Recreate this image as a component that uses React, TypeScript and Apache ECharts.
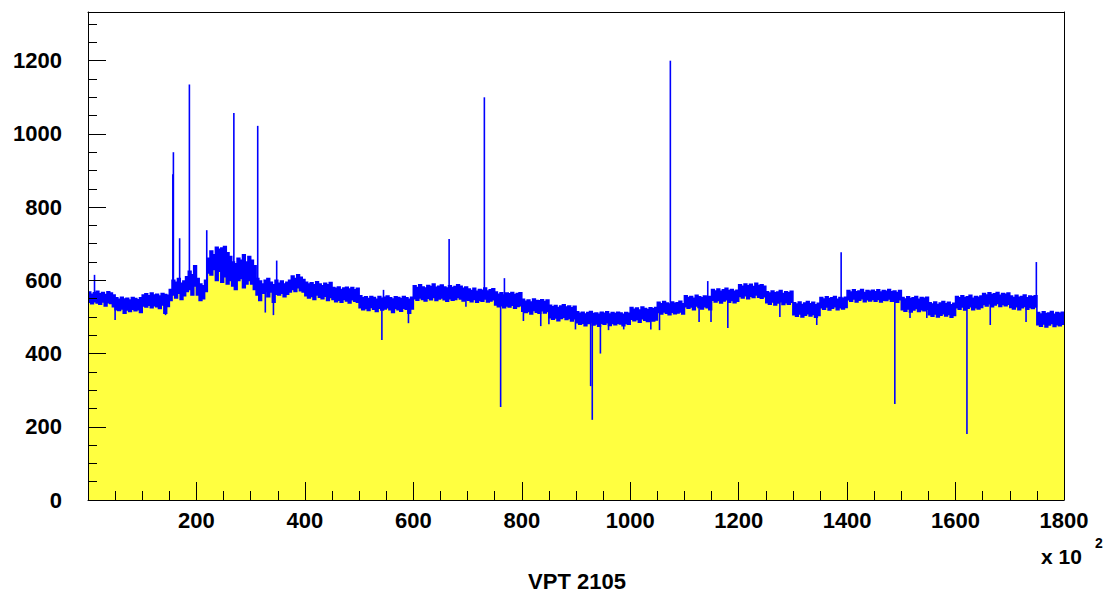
import React, { useEffect, useRef } from 'react';
import * as echarts from 'echarts';

// histogram bin width (x axis units, x 10^2)
const BIN_WIDTH = 5;
const X_MAX = 1800;
const Y_MAX = 1333;

// top of the blue noise band per bin (from x = 0, step BIN_WIDTH)
const bandHigh: number[] = [
  568, 562, 566, 570, 563, 567, 561, 569, 565, 560, 552, 548, 554, 549, 551, 546, 553, 550, 547, 552,
  560, 563, 558, 565, 560, 562, 557, 564, 561, 559, 575, 600, 595, 605, 592, 598, 610, 625, 615, 640,
  605, 590, 585, 600, 660, 680, 670, 690, 685, 688, 692, 675, 665, 650, 645, 660, 655, 670, 650, 665,
  655, 640, 605, 598, 590, 600, 605, 595, 588, 600, 592, 598, 590, 595, 600, 612, 605, 615, 608, 602,
  595, 590, 593, 588, 596, 590, 585, 592, 588, 594, 580, 578, 582, 575, 579, 581, 576, 580, 574, 578,
  558, 552, 555, 550, 556, 553, 548, 556, 551, 554, 557, 552, 549, 555, 553, 550, 556, 552, 548, 554,
  585, 580, 588, 582, 579, 586, 583, 590, 581, 584, 587, 582, 579, 585, 580, 583, 588, 584, 578, 582,
  576, 572, 578, 570, 575, 573, 579, 571, 574, 577, 568, 562, 566, 560, 565, 563, 567, 561, 564, 566,
  548, 543, 546, 541, 549, 545, 544, 547, 542, 546, 532, 528, 531, 526, 530, 533, 527, 530, 525, 529,
  514, 510, 513, 508, 512, 515, 509, 511, 507, 513, 510, 514, 508, 512, 509, 513, 511, 507, 512, 510,
  526, 521, 524, 519, 527, 523, 520, 525, 522, 526, 540, 536, 542, 538, 535, 541, 537, 539, 543, 536,
  558, 553, 556, 551, 559, 555, 552, 557, 554, 556, 575, 571, 576, 570, 574, 578, 572, 575, 570, 573,
  588, 584, 590, 585, 589, 583, 592, 586, 588, 584, 569, 565, 571, 566, 568, 572, 564, 569, 566, 570,
  539, 535, 541, 534, 538, 542, 536, 540, 533, 537, 553, 549, 555, 550, 552, 556, 548, 553, 551, 554,
  572, 568, 574, 569, 571, 575, 567, 572, 570, 573, 569, 574, 568, 572, 570, 575, 569, 571, 567, 572,
  553, 549, 555, 550, 552, 556, 548, 553, 551, 554, 539, 535, 541, 534, 538, 542, 536, 540, 533, 537,
  556, 552, 558, 553, 555, 559, 551, 556, 554, 557, 564, 560, 566, 561, 563, 567, 559, 564, 562, 565,
  557, 553, 559, 554, 556, 560, 552, 557, 555, 558, 512, 508, 514, 509, 511, 515, 507, 512, 510, 513,
];

// top of the yellow fill (bottom of the blue band) per bin
const bandLow: number[] = [
  540, 536, 542, 538, 535, 541, 530, 539, 537, 528, 520, 518, 522, 510, 519, 515, 521, 517, 520, 512,
  530, 527, 532, 525, 531, 528, 523, 533, 510, 529, 545, 560, 552, 565, 548, 558, 570, 575, 560, 585,
  560, 545, 550, 570, 620, 615, 630, 600, 625, 595, 610, 590, 600, 585, 575, 600, 605, 580, 590, 600,
  590, 575, 560, 545, 565, 570, 555, 568, 540, 562, 560, 565, 555, 562, 568, 575, 570, 580, 572, 568,
  558, 552, 556, 548, 560, 554, 550, 557, 545, 553, 548, 542, 546, 540, 548, 544, 538, 547, 543, 540,
  525, 520, 523, 518, 526, 521, 515, 524, 519, 522, 525, 520, 512, 523, 520, 516, 524, 521, 510, 522,
  550, 546, 552, 548, 544, 551, 547, 553, 545, 549, 552, 547, 543, 550, 546, 548, 553, 549, 544, 547,
  546, 542, 548, 540, 545, 543, 549, 541, 544, 547, 533, 528, 531, 525, 530, 527, 532, 524, 529, 531,
  516, 512, 515, 508, 518, 513, 510, 517, 511, 515, 498, 494, 497, 490, 496, 499, 493, 496, 489, 495,
  484, 480, 483, 476, 482, 485, 478, 481, 475, 483, 480, 484, 477, 482, 479, 483, 481, 476, 482, 480,
  494, 490, 493, 486, 495, 491, 488, 494, 489, 492, 512, 508, 514, 510, 506, 513, 509, 511, 514, 508,
  528, 524, 527, 520, 530, 526, 522, 528, 525, 520, 546, 541, 545, 538, 544, 547, 540, 545, 539, 543,
  556, 552, 558, 550, 557, 553, 560, 554, 551, 555, 539, 535, 541, 533, 538, 542, 534, 539, 535, 540,
  506, 502, 508, 500, 505, 509, 503, 507, 499, 504, 525, 521, 527, 519, 524, 528, 520, 525, 522, 526,
  547, 543, 549, 541, 546, 550, 542, 547, 544, 548, 543, 548, 541, 546, 545, 549, 543, 546, 540, 547,
  520, 516, 522, 514, 519, 523, 515, 520, 517, 521, 506, 502, 508, 500, 505, 509, 503, 507, 499, 504,
  525, 521, 527, 519, 524, 528, 520, 525, 522, 526, 534, 530, 536, 528, 533, 537, 529, 534, 531, 535,
  526, 522, 528, 520, 525, 529, 521, 526, 523, 527, 479, 475, 481, 473, 478, 482, 474, 479, 476, 480,
];

// single-bin upward spikes
const upSpikeX: number[] = [12, 156.5, 157.5, 169, 187, 219, 269, 313, 348, 545, 666, 731, 768, 1074, 1143, 1389, 1749];
const upSpikeY: number[] = [615, 890, 950, 715, 1135, 737, 1057, 1022, 654, 574, 713, 1100, 606, 1200, 598, 677, 650];

// single-bin downward spikes
const downSpikeX: number[] = [50, 143, 327, 342, 542, 591, 697, 761, 803, 835, 850, 899, 927, 930, 945, 960, 988, 1038, 1054, 1127, 1149, 1180, 1276, 1344, 1488, 1516, 1547, 1581, 1621, 1664, 1730];
const downSpikeY: number[] = [492, 505, 512, 505, 437, 483, 528, 254, 489, 475, 480, 466, 311, 219, 400, 464, 466, 466, 464, 486, 486, 470, 500, 478, 262, 497, 497, 505, 180, 478, 486];

const xTickLabels = ['200', '400', '600', '800', '1000', '1200', '1400', '1600', '1800'];
const yTickLabels = ['0', '200', '400', '600', '800', '1000', '1200'];

const YELLOW = '#ffff40';
const BLUE = '#0000ff';
const FONT = '"Liberation Sans", Arial, Helvetica, sans-serif';

export default function App() {
  const ref = useRef<HTMLDivElement | null>(null);

  useEffect(() => {
    if (!ref.current) return;
    const chart = echarts.init(ref.current, undefined, { renderer: 'svg' });

    const binIndexOf = (x: number) => Math.min(bandHigh.length - 1, Math.max(0, Math.floor(x / BIN_WIDTH)));

    const renderItem = (_params: any, api: any) => {
      const top: number[][] = [];
      const bot: number[][] = [];
      for (let i = 0; i < bandHigh.length; i++) {
        const x0 = i * BIN_WIDTH;
        const x1 = x0 + BIN_WIDTH;
        top.push(api.coord([x0, bandHigh[i]]), api.coord([x1, bandHigh[i]]));
        bot.push(api.coord([x0, bandLow[i]]), api.coord([x1, bandLow[i]]));
      }
      const yellowPts = [api.coord([0, 0]), ...bot, api.coord([X_MAX, 0])];
      const bluePts = [...top, ...bot.slice().reverse()];
      const children: any[] = [
        { type: 'polygon', shape: { points: yellowPts }, style: { fill: YELLOW, stroke: null } },
        { type: 'polygon', shape: { points: bluePts }, style: { fill: BLUE, stroke: BLUE, lineWidth: 1.6 } },
      ];
      upSpikeX.forEach((x, k) => {
        const i = binIndexOf(x);
        const p0 = api.coord([x, bandLow[i]]);
        const p1 = api.coord([x, upSpikeY[k]]);
        children.push({
          type: 'line',
          shape: { x1: p0[0], y1: p0[1], x2: p1[0], y2: p1[1] },
          style: { stroke: BLUE, lineWidth: 1.6 },
        });
      });
      downSpikeX.forEach((x, k) => {
        const i = binIndexOf(x);
        const p0 = api.coord([x, bandHigh[i]]);
        const p1 = api.coord([x, downSpikeY[k]]);
        children.push({
          type: 'line',
          shape: { x1: p0[0], y1: p0[1], x2: p1[0], y2: p1[1] },
          style: { stroke: BLUE, lineWidth: 1.6 },
        });
      });
      return { type: 'group', children };
    };

    const labelStyle = {
      fontSize: 22,
      fontWeight: 'bold' as const,
      fontFamily: FONT,
      color: '#000',
    };

    chart.setOption({
      animation: false,
      backgroundColor: '#fff',
      grid: { left: 88, top: 12, width: 976, height: 488, show: false },
      xAxis: [
        {
          type: 'value',
          min: 0,
          max: X_MAX,
          interval: 200,
          position: 'bottom',
          z: 10,
          axisLine: { show: true, onZero: false, lineStyle: { color: '#000', width: 1 } },
          axisTick: { show: true, inside: true, length: 18, lineStyle: { color: '#000', width: 1 } },
          minorTick: { show: true, splitNumber: 4, length: 9, lineStyle: { color: '#000', width: 1 } },
          splitLine: { show: false },
          minorSplitLine: { show: false },
          axisLabel: {
            ...labelStyle,
            margin: 9,
            formatter: (v: number) => (xTickLabels.includes(String(v)) ? String(v) : ''),
          },
        },
        {
          type: 'value',
          min: 0,
          max: X_MAX,
          position: 'top',
          z: 10,
          axisLine: { show: true, onZero: false, lineStyle: { color: '#000', width: 1 } },
          axisTick: { show: false },
          axisLabel: { show: false },
          splitLine: { show: false },
        },
      ],
      yAxis: [
        {
          type: 'value',
          min: 0,
          max: Y_MAX,
          interval: 50,
          position: 'left',
          z: 10,
          axisLine: { show: true, onZero: false, lineStyle: { color: '#000', width: 1 } },
          axisTick: { show: true, inside: true, length: 9, lineStyle: { color: '#000', width: 1 } },
          axisLabel: { show: false },
          splitLine: { show: false },
        },
        {
          type: 'value',
          min: 0,
          max: Y_MAX,
          interval: 200,
          position: 'left',
          offset: 0,
          z: 10,
          axisLine: { show: false },
          axisTick: { show: true, inside: true, length: 18, lineStyle: { color: '#000', width: 1 } },
          axisLabel: {
            ...labelStyle,
            margin: 26,
            formatter: (v: number) => (yTickLabels.includes(String(v)) ? String(v) : ''),
          },
          splitLine: { show: false },
        },
        {
          type: 'value',
          min: 0,
          max: Y_MAX,
          position: 'right',
          z: 10,
          axisLine: { show: true, onZero: false, lineStyle: { color: '#000', width: 1 } },
          axisTick: { show: false },
          axisLabel: { show: false },
          splitLine: { show: false },
        },
      ],
      series: [
        {
          type: 'custom',
          xAxisIndex: 0,
          yAxisIndex: 0,
          z: 2,
          clip: true,
          silent: true,
          data: [[0, 0]],
          renderItem,
        },
      ],
      graphic: [
        {
          type: 'text',
          x: 1041,
          y: 556,
          style: { text: 'x 10', font: `bold 21px ${FONT}`, fill: '#000', textAlign: 'left', textVerticalAlign: 'middle' },
        },
        {
          type: 'text',
          x: 1095,
          y: 543,
          style: { text: '2', font: `bold 14px ${FONT}`, fill: '#000', textAlign: 'left', textVerticalAlign: 'middle' },
        },
        {
          type: 'text',
          x: 577,
          y: 581,
          style: { text: 'VPT 2105', font: `bold 22px ${FONT}`, fill: '#000', textAlign: 'center', textVerticalAlign: 'middle' },
        },
      ],
    });

    return () => chart.dispose();
  }, []);

  return (
    <div
      ref={ref}
      style={{ position: 'fixed', left: 0, top: 0, width: 1111, height: 598, background: '#fff' }}
    />
  );
}
